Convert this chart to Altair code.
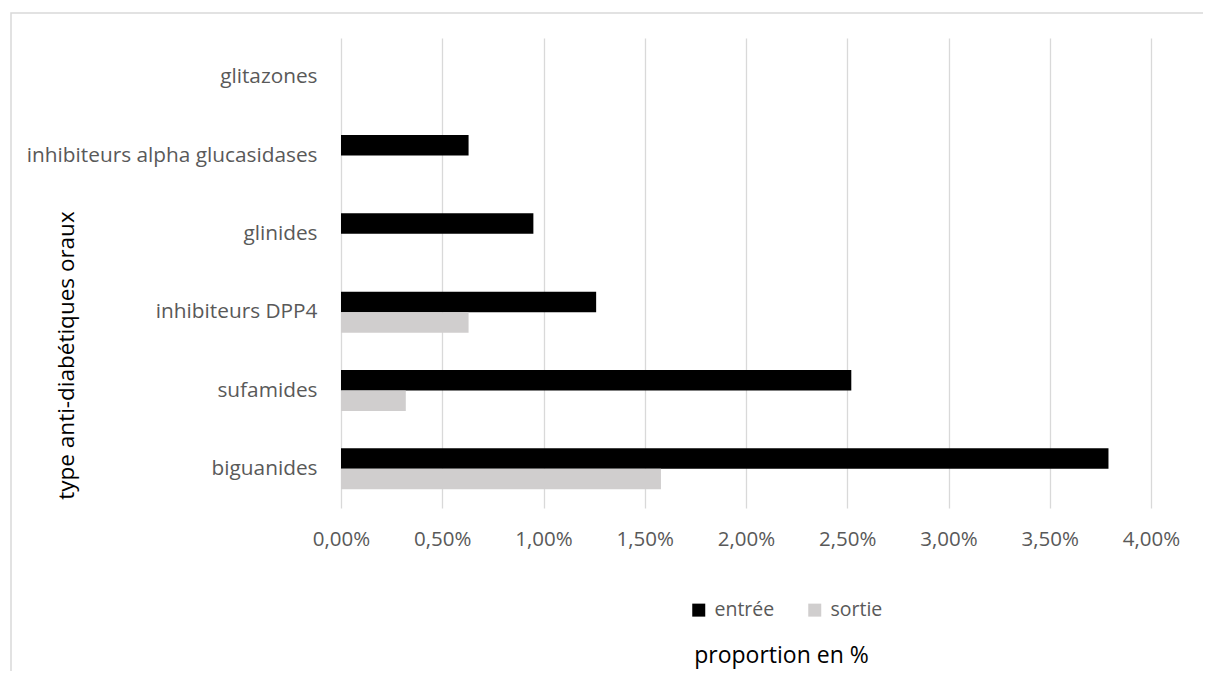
import altair as alt
import pandas as pd

categories = ["glitazones", "inhibiteurs alpha glucasidases", "glinides",
              "inhibiteurs DPP4", "sufamides", "biguanides"]
series = ["entrée", "sortie"]
entree = [0.0, 0.63, 0.95, 1.26, 2.52, 3.79]
sortie = [0.0, 0.0, 0.0, 0.63, 0.32, 1.58]
x_ticks = [0, 0.5, 1.0, 1.5, 2.0, 2.5, 3.0, 3.5, 4.0]

rows = []
for c, e, s in zip(categories, entree, sortie):
    rows.append({"type": c, "serie": series[0], "val": e})
    rows.append({"type": c, "serie": series[1], "val": s})
df = pd.DataFrame(rows)

FONT = "Open Sans"
LABEL = "#595959"
GRID = "#d9d9d9"

bars = alt.Chart(df).mark_bar().encode(
    y=alt.Y("type:N", sort=categories,
            scale=alt.Scale(paddingInner=0.476, paddingOuter=0.238),
            axis=alt.Axis(title="type anti-diabétiques oraux", grid=False, domain=False,
                          ticks=False, labelPadding=24, labelFontSize=20.8,
                          labelColor=LABEL, labelFont=FONT, titleFont=FONT,
                          titleFontSize=22.5, titleFontWeight="normal", titleColor="#000000",
                          titleX=-275, titleY=317, titleAngle=270, titleAlign="center",
                          titleBaseline="middle", labelLimit=400)),
    yOffset=alt.YOffset("serie:N", sort=series),
    x=alt.X("val:Q", scale=alt.Scale(domain=[0, 4], nice=False),
            axis=alt.Axis(title="proportion en %", values=x_ticks, grid=True,
                          gridColor=GRID, gridWidth=1.3, domain=False, ticks=False,
                          labelFlush=False,
                          labelPadding=21, labelFontSize=20.5, labelColor=LABEL,
                          labelFont=FONT, titleFont=FONT, titleFontSize=23,
                          titleFontWeight="normal", titleColor="#000000",
                          titleX=440, titleY=147, titleAlign="center",
                          titleBaseline="middle",
                          labelExpr="replace(format(datum.value/100, '.2%'), '.', ',')")),
    color=alt.Color("serie:N", sort=series,
                    scale=alt.Scale(domain=series, range=["#000000", "#d0cece"]),
                    legend=alt.Legend(title=None, orient="none", direction="horizontal",
                                      legendX=348, legendY=562, symbolType="square",
                                      symbolSize=169, symbolStrokeWidth=0,
                                      labelFontSize=19.5, labelColor=LABEL, labelFont=FONT,
                                      labelOffset=6, columnPadding=30, padding=0)),
)

border = alt.Chart(alt.Data(values=[{}])).mark_rect(
    fill="transparent", stroke=GRID, strokeWidth=1.5
).encode(
    x=alt.value(-330), x2=alt.value(2000), y=alt.value(-25), y2=alt.value(2000)
)

chart = alt.layer(border, bars).properties(
    width=810, height=470,
    autosize=alt.AutoSizeParams(type="none"),
    padding={"left": 333, "top": 30, "right": 52, "bottom": 163},
).configure_view(strokeWidth=0)

chart.save("out.html", embed_options={"renderer": "svg", "actions": False})
